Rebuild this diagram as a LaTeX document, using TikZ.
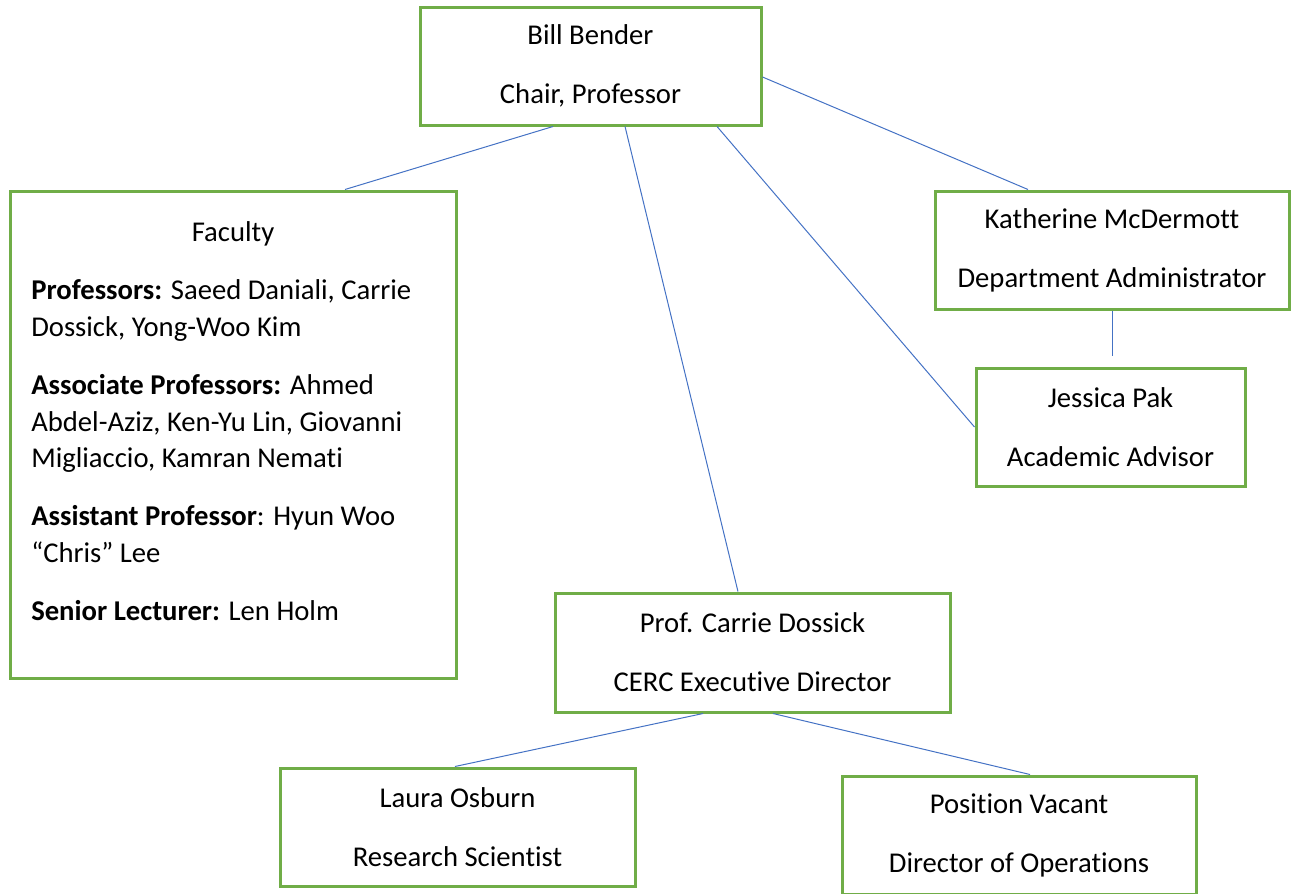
\documentclass[tikz,border=0pt]{standalone}
\usepackage{fontspec}
\setmainfont{Carlito}[Ligatures=NoCommon]
\definecolor{boxgreen}{HTML}{70AD47}
\definecolor{linkblue}{HTML}{4472C4}

\begin{document}
\begin{tikzpicture}
[x=0.75pt, y=-0.75pt,
 every node/.style={inner sep=0pt},
 box/.style={rectangle, draw=boxgreen, line width=2.25pt, fill=white, align=center,
   font={\fontsize{21.5}{44.25}\selectfont}},
 link/.style={draw=linkblue, line width=0.75pt}]
\useasboundingbox (0,0) rectangle (1293,893);
% boxes
\node (bill) [box, minimum width=341*0.75pt, minimum height=118*0.75pt] at (590.5, 66) {Bill Bender\\Chair, Professor};
\node (katherine) [box, minimum width=354*0.75pt, minimum height=118*0.75pt] at (1112, 250) {Katherine McDermott\\Department Administrator};
\node (jessica) [box, minimum width=269*0.75pt, minimum height=118*0.75pt] at (1110.5, 427) {Jessica Pak\\Academic Advisor};
\node (carrie) [box, minimum width=395*0.75pt, minimum height=119*0.75pt] at (752.5, 652.5) {Prof. Carrie Dossick\\CERC Executive Director};
\node (laura) [box, minimum width=355*0.75pt, minimum height=118*0.75pt] at (457.5, 827) {Laura Osburn\\Research Scientist};
\node (vacant) [box, minimum width=354*0.75pt, minimum height=118*0.75pt] at (1019, 835) {Position Vacant\\Director of Operations};
\node (faculty) [box, minimum width=446*0.75pt, minimum height=487*0.75pt] at (233, 434.5) {};
\node (facultytitle) [anchor=base, font={\fontsize{21.5}{24}\selectfont}] at (233, 241) {Faculty};
\node (facultylist) [anchor=north west, align=left, font={\fontsize{21.5}{27.5}\selectfont}] at (31, 279.5)
  {\textbf{Professors:} Saeed Daniali, Carrie\\
   Dossick, Yong-Woo Kim\\[16pt]
   \textbf{Associate Professors:} Ahmed\\
   Abdel-Aziz, Ken-Yu Lin, Giovanni\\
   Migliaccio, Kamran Nemati\\[16pt]
   \textbf{Assistant Professor}: Hyun Woo\\
   “Chris” Lee\\[16pt]
   \textbf{Senior Lecturer:} Len Holm};
% connectors
\draw [link] ([xshift=-28.1pt]bill.south) -- ([xshift=84pt]faculty.north);
\draw [link] ([xshift=25.9pt]bill.south) -- ([xshift=-10.9pt]carrie.north);
\draw [link] ([xshift=94.9pt]bill.south) -- (jessica.west);
\draw [link] ([yshift=-8.25pt]bill.east) -- ([xshift=-63pt]katherine.north);
\draw [link, shorten >=8.25pt] (katherine.south) -- (katherine.south |- jessica.north);
\draw [link] ([xshift=-37.1pt]carrie.south) -- ([xshift=-1.9pt]laura.north);
\draw [link] ([xshift=15.4pt]carrie.south) -- ([xshift=8.25pt]vacant.north);
\end{tikzpicture}
\end{document}
